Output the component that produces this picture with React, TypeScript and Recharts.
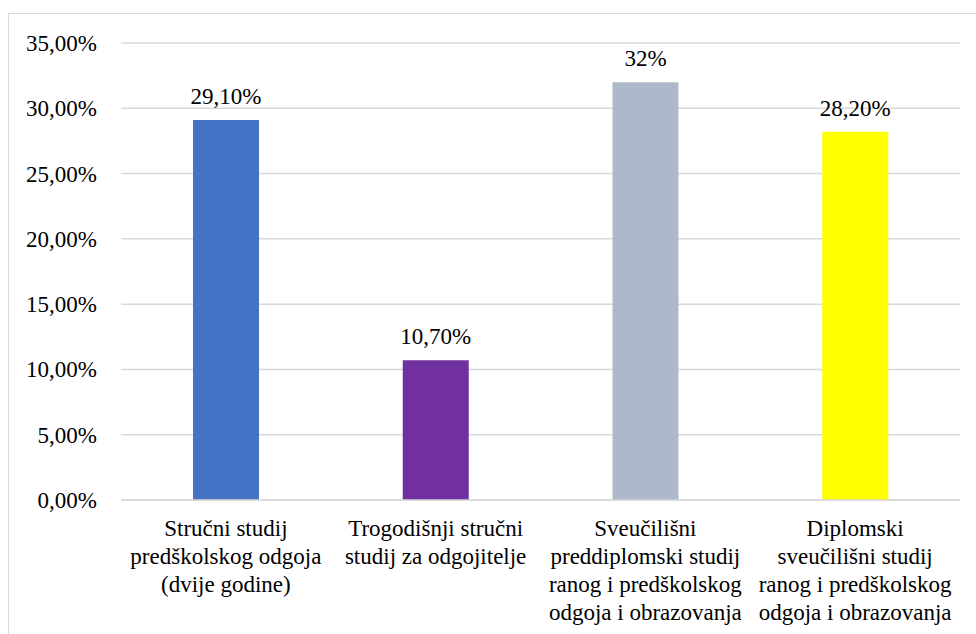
import React from "react";
import { BarChart, Bar, XAxis, YAxis, CartesianGrid, Cell, LabelList } from "recharts";

const categories = [
  ["Stručni studij", "predškolskog odgoja", "(dvije godine)"],
  ["Trogodišnji stručni", "studij za odgojitelje"],
  ["Sveučilišni", "preddiplomski studij", "ranog i predškolskog", "odgoja i obrazovanja"],
  ["Diplomski", "sveučilišni studij", "ranog i predškolskog", "odgoja i obrazovanja"],
];
const values = [29.1, 10.7, 32, 28.2];
const valueLabels = ["29,10%", "10,70%", "32%", "28,20%"];
const yTicks = [0, 5, 10, 15, 20, 25, 30, 35];
const colors = ["#4472C4", "#7030A0", "#ADB9CA", "#FFFF00"];

const data = values.map((v, i) => ({
  name: String(i),
  value: v,
  label: valueLabels[i],
}));

const FONT = "Liberation Serif, DejaVu Serif";
const textStyle = { fontFamily: FONT, fontSize: 23 };

const CategoryTick = (props: any) => {
  const { x, y, payload } = props;
  const lines = categories[Number(payload.value)] || [];
  return (
    <text textAnchor="middle" style={textStyle} fill="#000">
      {lines.map((line, i) => (
        <tspan key={i} x={x} y={y + 36 + i * 28}>
          {line}
        </tspan>
      ))}
    </text>
  );
};

const ValueTick = (props: any) => {
  const { x, y, payload } = props;
  return (
    <text x={x} y={y} dy={8} textAnchor="end" style={textStyle} fill="#000">
      {payload.value.toFixed(2).replace(".", ",") + "%"}
    </text>
  );
};

const ValueLabel = (props: any) => {
  const { x, y, width, value } = props;
  return (
    <text x={x + width / 2} y={y - 16} textAnchor="middle" style={textStyle} fill="#000">
      {value}
    </text>
  );
};

export default function App() {
  return (
    <div
      style={{
        position: "fixed",
        left: 8,
        top: 13,
        width: 968,
        height: 621,
        borderTop: "1px solid #d9d9d9",
        borderLeft: "1px solid #d9d9d9",
        background: "#fff",
        overflow: "hidden",
        fontFamily: FONT,
      }}
    >
      <BarChart
        width={967}
        height={620}
        data={data}
        margin={{ top: 29, right: 16, bottom: 0, left: 0 }}
        barSize={66}
        style={{ fontFamily: FONT }}
      >
        <CartesianGrid vertical={false} stroke="#d9d9d9" strokeWidth={1.5} />
        <XAxis
          dataKey="name"
          height={134}
          axisLine={{ stroke: "#d9d9d9", strokeWidth: 1.5 }}
          tickLine={false}
          tickSize={0}
          tickMargin={0}
          interval={0}
          tick={<CategoryTick />}
        />
        <YAxis
          width={112}
          domain={[0, 35]}
          ticks={yTicks}
          axisLine={false}
          tickLine={false}
          tickSize={0}
          tickMargin={24}
          interval={0}
          tick={<ValueTick />}
        />
        <Bar dataKey="value" isAnimationActive={false}>
          {data.map((d, i) => (
            <Cell key={d.name} fill={colors[i]} />
          ))}
          <LabelList dataKey="label" content={<ValueLabel />} />
        </Bar>
      </BarChart>
    </div>
  );
}
